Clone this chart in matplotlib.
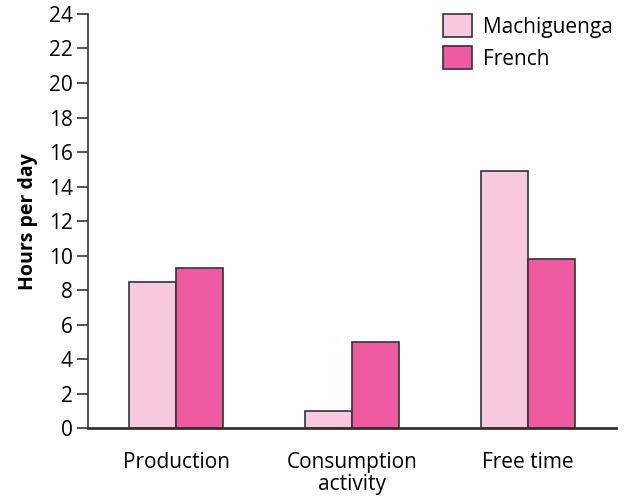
import numpy as np
import matplotlib.pyplot as plt

plt.rcParams['font.family'] = ['Open Sans', 'DejaVu Sans']

# Data
categories = ["Production", "Consumption\nactivity", "Free time"]
machiguenga = [8.5, 1.0, 14.9]
french = [9.3, 5.0, 9.8]
y_ticks = list(range(0, 25, 2))

light_pink = "#F8C9DE"
hot_pink = "#EE5BA0"
edge = "#333333"

fig = plt.figure(figsize=(6.29, 4.98), dpi=100)
ax = fig.add_axes([0.14, 0.14, 0.839, 0.832])

x = np.arange(len(categories))
w = 0.268
ax.bar(x - w / 2, machiguenga, w, color=light_pink, edgecolor=edge, linewidth=1.2, label="Machiguenga")
ax.bar(x + w / 2, french, w, color=hot_pink, edgecolor=edge, linewidth=1.2, label="French")

ax.set_xlim(-0.5, 2.5)
ax.set_ylim(0, 24)
ax.set_yticks(y_ticks)
ax.set_xticks(x)
ax.set_xticklabels(categories, fontsize=15, linespacing=1.05)
ax.tick_params(axis='y', labelsize=15, length=8, width=1.2, color=edge, pad=3)
ax.tick_params(axis='x', length=0, pad=17)

ax.spines['top'].set_visible(False)
ax.spines['right'].set_visible(False)
ax.spines['left'].set_linewidth(1.2)
ax.spines['bottom'].set_linewidth(2)
ax.spines['left'].set_color(edge)
ax.spines['bottom'].set_color(edge)

ax.set_ylabel("Hours per day", fontsize=14, fontweight='bold', labelpad=8)

ax.legend(loc='upper right', bbox_to_anchor=(1.03, 1.045), frameon=False, fontsize=15,
          handlelength=1.35, handleheight=1.35, handletextpad=0.55, labelspacing=0.4)

fig.savefig("out.png", dpi=100)
